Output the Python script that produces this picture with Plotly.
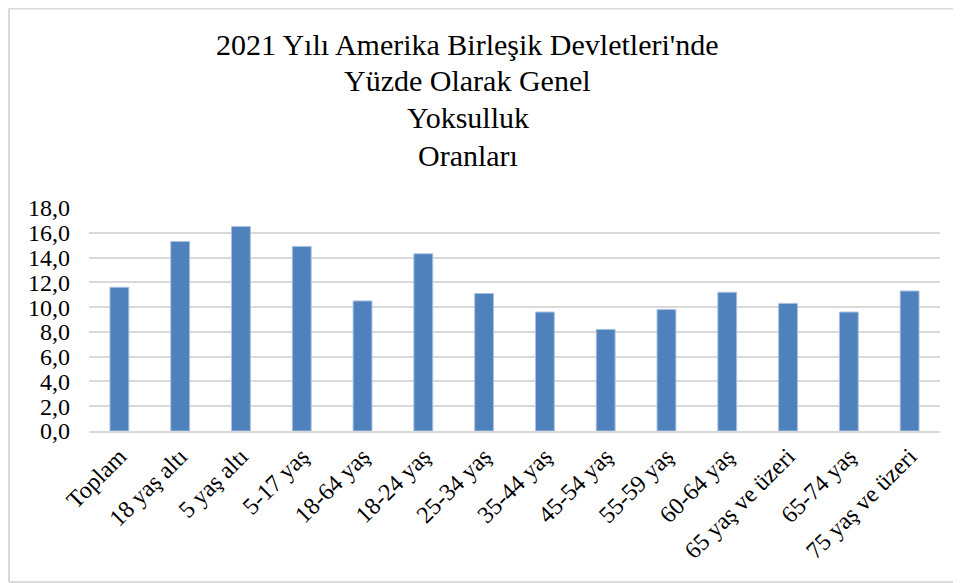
import plotly.graph_objects as go

# Poverty rates (%) in the US, 2021, by age group
categories = [
    "Toplam", "18 yaş altı", "5 yaş altı", "5-17 yaş", "18-64 yaş",
    "18-24 yaş", "25-34 yaş", "35-44 yaş", "45-54 yaş", "55-59 yaş",
    "60-64 yaş", "65 yaş ve üzeri", "65-74 yaş", "75 yaş ve üzeri",
]
rates = [11.6, 15.3, 16.5, 14.9, 10.5, 14.3, 11.1, 9.6, 8.2, 9.8, 11.2, 10.3, 9.6, 11.3]

title_lines = [
    "2021 Yılı Amerika Birleşik Devletleri'nde",
    "Yüzde Olarak Genel",
    "Yoksulluk",
    "Oranları",
]

FONT = "Liberation Serif"
GRID = "#d9d9d9"

# the page puts the figure 8px in from the top-left corner
W, H = 953, 575
L, R, T, B = 81, 21, 200, 152
plot_h = H - T - B


def py(screen_y):
    # screen pixel row -> paper y
    return (H - B - (screen_y - 8)) / plot_h


fig = go.Figure(
    go.Bar(
        x=categories,
        y=rates,
        marker=dict(color="#4f81bd", line=dict(color="#a9c0e0", width=1)),
        hoverinfo="x+y",
    )
)

title_rows = [44, 81, 118, 155]
annotations = [
    dict(text=line, xref="paper", yref="paper", x=0.445, y=py(row),
         xanchor="center", yanchor="middle", showarrow=False,
         font=dict(family=FONT, size=30, color="black"))
    for line, row in zip(title_lines, title_rows)
]

# chart-area border: left, top and bottom edges (right edge is cropped off)
bx0, bx1 = -0.094, 1.2
by0, by1 = py(582), py(8.5)
border = dict(type="line", xref="paper", yref="paper",
              line=dict(color=GRID, width=2), layer="below")
shapes = [
    dict(border, x0=bx0, x1=bx0, y0=by0, y1=by1),
    dict(border, x0=bx0, x1=bx1, y0=by1, y1=by1),
    dict(border, x0=bx0, x1=bx1, y0=by0, y1=by0),
]

fig.update_layout(
    width=W,
    height=H,
    margin=dict(l=L, r=R, t=T, b=B),
    paper_bgcolor="white",
    plot_bgcolor="white",
    separators=",.",
    bargap=0.69,
    showlegend=False,
    font=dict(family=FONT, color="black", size=24),
    annotations=annotations,
    shapes=shapes,
)

fig.update_xaxes(
    tickangle=-45,
    tickfont=dict(family=FONT, size=24, color="black"),
    showgrid=False,
    showline=True,
    linecolor=GRID,
    linewidth=1.5,
    ticks="",
    automargin=False,
)

fig.update_yaxes(
    range=[0, 18],
    dtick=2,
    tickformat=".1f",
    tickfont=dict(family=FONT, size=24, color="black"),
    showgrid=True,
    gridcolor=GRID,
    gridwidth=1.5,
    zeroline=False,
    showline=False,
    ticks="",
    ticklabelstandoff=18,
    automargin=False,
)

fig.write_html("out.html")
